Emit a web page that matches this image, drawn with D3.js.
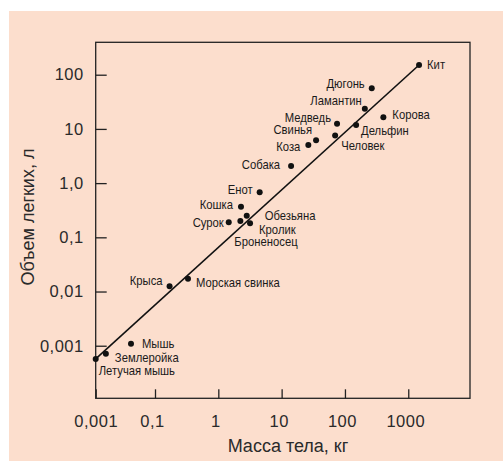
<!DOCTYPE html>
<html>
<head>
<meta charset="utf-8">
<script src="https://cdn.jsdelivr.net/npm/d3@7"></script>
<style>
  body { margin: 0; background: #fff; }
  svg { display: block; }
  .lbl { font-family: "Liberation Sans", Arial, sans-serif; font-size: 12px; fill: #1a1a1a; }
  .tick text { font-family: "Liberation Sans", Arial, sans-serif; font-size: 16.5px; fill: #2a2a2a; letter-spacing: 0.5px; }
  .title { font-family: "Liberation Sans", Arial, sans-serif; font-size: 18px; fill: #2a2a2a; }
</style>
</head>
<body>
<svg id="chart" width="503" height="461"></svg>
<script>
// animals: mass (kg), lung volume (l)
const animals = ["Кит", "Дюгонь", "Ламантин", "Корова", "Медведь", "Дельфин", "Свинья", "Коза", "Человек", "Собака",
  "Енот", "Кошка", "Обезьяна", "Сурок", "Броненосец", "Кролик", "Крыса", "Морская свинка", "Мышь", "Землеройка", "Летучая мышь"];
const massKg = [1480, 265, 206, 404, 75, 150, 35, 26.4, 70, 14.1,
  4.5, 2.28, 2.81, 1.46, 2.23, 3.17, 0.17, 0.332, 0.0155, 0.0022, 0.001];
const lungL = [151, 56, 23.6, 16.4, 12.5, 11.8, 6.2, 5.05, 7.6, 2.07,
  0.676, 0.367, 0.25, 0.189, 0.2, 0.181, 0.0125, 0.0172, 0.00109, 0.00071, 0.00057];
// label anchor and offset from dot (dx, dy of text centre)
const labelPos = [["start", 8, 0], ["end", -7, -5], ["end", -3, -8], ["start", 9, -3], ["end", -6, -6], ["start", 5, 6],
  ["end", -4, -10], ["end", -8, 2], ["start", 6, 10], ["end", -11, -1],
  ["end", -7, -3], ["end", -8, -2], ["start", 18, 0], ["end", -5, 0], ["start", -6, 21], ["start", 9, 6],
  ["end", -7, -6], ["start", 8, 4], ["start", 11, 0], ["start", 9, 4], ["start", 3, 12]];

const fitLine = [[0.001, 0.00057], [1480, 151]];

const xTicks = [0.001, 0.1, 1, 10, 100, 1000];
const xTickLabels = ["0,001", "0,1", "1", "10", "100", "1000"];
const yTicks = [100, 10, 1, 0.1, 0.01, 0.001];
const yTickLabels = ["100", "10", "1,0", "0,1", "0,01", "0,001"];

const svg = d3.select("#chart");
const box = { left: 95.7, top: 42.3, right: 470, bottom: 398.3 };

svg.append("rect")
  .attr("x", 9).attr("y", 11).attr("width", 494).attr("height", 450)
  .attr("fill", "#fcdecd");

// x axis is compressed between 0,001 and 0,1
const x = d3.scaleLog().domain([0.001, 0.1, 9440]).range([box.left, 155, box.right]);
const y = d3.scaleLog().domain([10 ** -3.97, 10 ** 2.598]).range([box.bottom, box.top]);

svg.append("g")
  .attr("transform", `translate(0,${box.bottom})`)
  .call(d3.axisBottom(x).tickValues(xTicks).tickFormat((d, i) => xTickLabels[i]).tickSizeInner(-9).tickSizeOuter(0).tickPadding(16.5))
  .call((g) => g.select(".domain").remove())
  .call((g) => g.selectAll(".tick line").attr("stroke", "#222").attr("stroke-width", 1.3))
  .call((g) => g.selectAll(".tick text").attr("dx", (d, i) => (i === 0 ? 0 : -3)));

svg.append("g")
  .attr("transform", `translate(${box.left},0)`)
  .call(d3.axisLeft(y).tickValues(yTicks).tickFormat((d, i) => yTickLabels[i]).tickSizeInner(-11).tickSizeOuter(0).tickPadding(12))
  .call((g) => g.select(".domain").remove())
  .call((g) => g.selectAll(".tick line").attr("stroke", "#222").attr("stroke-width", 1.3));

svg.append("rect")
  .attr("x", box.left).attr("y", box.top)
  .attr("width", box.right - box.left).attr("height", box.bottom - box.top)
  .attr("fill", "none").attr("stroke", "#222").attr("stroke-width", 1.3);

svg.append("path")
  .attr("d", d3.line().x((d) => x(d[0])).y((d) => y(d[1]))(fitLine))
  .attr("stroke", "#111").attr("stroke-width", 1.6).attr("fill", "none");

const pts = svg.append("g").selectAll("g").data(animals).join("g")
  .attr("transform", (d, i) => `translate(${x(massKg[i])},${y(lungL[i])})`);

pts.append("circle").attr("r", 3).attr("fill", "#111");

// condensed look: squeeze the labels horizontally
pts.append("text")
  .attr("class", "lbl")
  .attr("text-anchor", (d, i) => labelPos[i][0])
  .attr("transform", (d, i) => `translate(${labelPos[i][1]},${labelPos[i][2]}) scale(0.94,1)`)
  .attr("dy", "0.36em")
  .text((d) => d);

svg.append("text")
  .attr("class", "title")
  .attr("x", 288).attr("y", 446).attr("dy", "0.36em")
  .attr("text-anchor", "middle")
  .text("Масса тела, кг");

svg.append("text")
  .attr("class", "title")
  .attr("transform", "translate(28,217) rotate(-90)")
  .attr("dy", "0.36em")
  .attr("text-anchor", "middle")
  .text("Объем легких, л");
</script>
</body>
</html>
